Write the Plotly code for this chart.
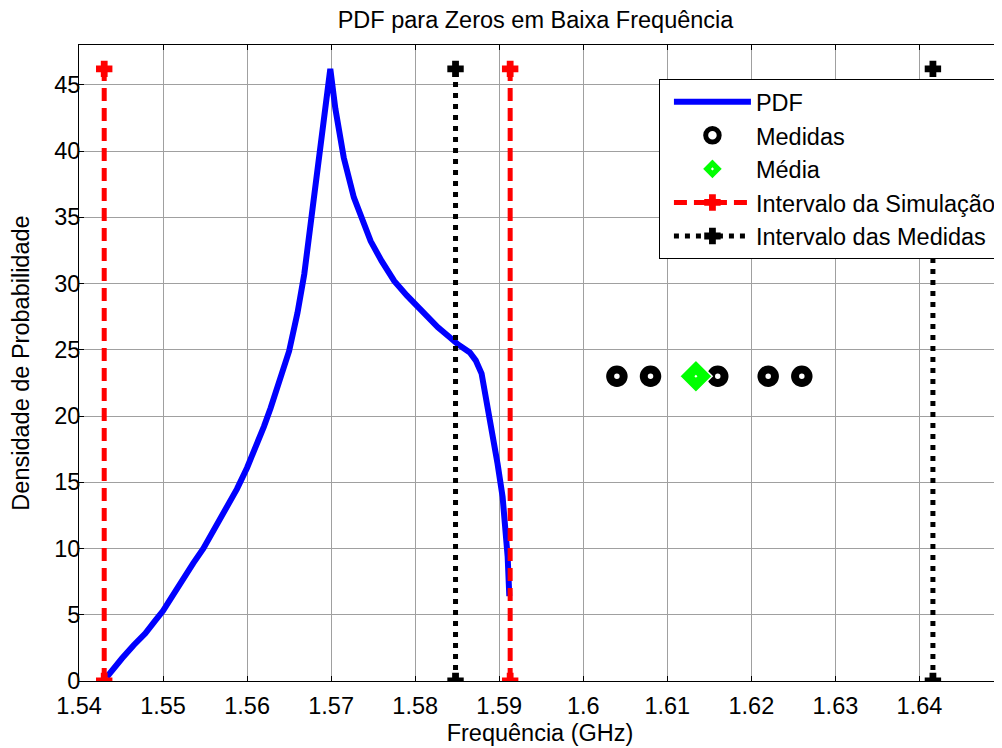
import plotly.graph_objects as go

# ---- data ----
pdf_x = [1.5433, 1.5440, 1.5451, 1.5465, 1.5479, 1.5490, 1.5500, 1.5512, 1.5524, 1.5536,
         1.5548, 1.5562, 1.5576, 1.5588, 1.5600, 1.5610, 1.5620, 1.5628, 1.5636, 1.5643,
         1.5650, 1.5660, 1.5668, 1.5678, 1.5688, 1.5699, 1.5705, 1.5715, 1.5727, 1.5737,
         1.5747, 1.5760, 1.5775, 1.5790, 1.5803, 1.5815, 1.5827, 1.5840, 1.5851, 1.5865,
         1.5872, 1.5879, 1.5888, 1.5898, 1.5904, 1.5910, 1.5912]
pdf_y = [0.3, 0.9, 1.7, 2.7, 3.6, 4.5, 5.3, 6.5, 7.8, 8.9,
         10.0, 11.5, 13.0, 14.5, 16.1, 17.6, 19.2, 20.6, 22.2, 23.6,
         24.9, 27.8, 30.7, 35.7, 40.7, 46.2, 43.2, 39.5, 36.5, 34.8,
         33.2, 31.7, 30.2, 29.1, 28.2, 27.4, 26.7, 26.0, 25.4, 24.8,
         24.2, 23.2, 20.2, 16.4, 13.9, 9.4, 6.4]

medidas_x = [1.604, 1.608, 1.616, 1.622, 1.626]
medidas_y = [23, 23, 23, 23, 23]
media_x = [1.6134]
media_y = [23]

sim_interval = [1.5430, 1.5913]
med_interval = [1.5848, 1.6416]
interval_height = [0, 46.2]

x_ticks = [1.54, 1.55, 1.56, 1.57, 1.58, 1.59, 1.60, 1.61, 1.62, 1.63, 1.64]
x_tick_labels = ["1.54", "1.55", "1.56", "1.57", "1.58", "1.59", "1.6", "1.61", "1.62", "1.63", "1.64"]
y_ticks = [0, 5, 10, 15, 20, 25, 30, 35, 40, 45]

FONT = "Arial, Liberation Sans, sans-serif"
FS = 23.5

fig = go.Figure()

fig.add_trace(go.Scatter(x=pdf_x, y=pdf_y, mode="lines", name="PDF",
                         line=dict(color="#0000FF", width=6), legendgroup="a"))
fig.add_trace(go.Scatter(x=medidas_x, y=medidas_y, mode="markers", name="Medidas",
                         marker=dict(symbol="circle", size=13.5, color="white",
                                     line=dict(color="black", width=8)),
                         legendgroup="b"))
fig.add_trace(go.Scatter(x=media_x, y=media_y, mode="markers", name="Média",
                         marker=dict(symbol="diamond-dot", size=25, color="#00FF00",
                                     line=dict(color="white", width=1.5)),
                         legendgroup="c"))

# Intervalo da Simulação (two vertical segments, one legend entry)
sx, sy = [], []
for v in sim_interval:
    sx += [v, v, None]
    sy += interval_height + [None]
fig.add_trace(go.Scatter(x=sx, y=sy, mode="lines+markers", name="Intervalo da Simulação",
                         line=dict(color="#FF0000", width=5, dash="13px,7px"),
                         marker=dict(symbol="cross", size=12, color="#FF0000",
                                     line=dict(color="#FF0000", width=2)),
                         legendgroup="d"))
mx, my = [], []
for v in med_interval:
    mx += [v, v, None]
    my += interval_height + [None]
fig.add_trace(go.Scatter(x=mx, y=my, mode="lines+markers", name="Intervalo das Medidas",
                         line=dict(color="black", width=5, dash="5px,6px"),
                         marker=dict(symbol="cross", size=12, color="black",
                                     line=dict(color="black", width=2)),
                         legendgroup="e"))

axis_common = dict(showgrid=True, gridcolor="#a0a0a0", gridwidth=1,
                   showline=True, linecolor="black", linewidth=1, mirror="ticks",
                   ticks="inside", ticklen=5, tickcolor="black", zeroline=False,
                   tickfont=dict(family=FONT, size=FS, color="black"))

fig.update_xaxes(range=[1.54, 1.6497], tickvals=x_ticks, ticktext=x_tick_labels,
                 title=dict(text="Frequência (GHz)", font=dict(family=FONT, size=FS, color="black"),
                            standoff=6),
                 ticklabelstandoff=4, **axis_common)
fig.update_yaxes(range=[0, 48], tickvals=y_ticks,
                 title=dict(text="Densidade de Probabilidade", font=dict(family=FONT, size=FS, color="black"),
                            standoff=19),
                 ticklabelstandoff=-7, **axis_common)

# page body has an 8px margin: figure is sized so it fills the 1002x748 window
fig.update_layout(
    width=994, height=740,
    margin=dict(l=71, r=1, t=37, b=67, autoexpand=False),
    paper_bgcolor="white", plot_bgcolor="white",
    font=dict(family=FONT, size=FS, color="black"),
    title=dict(text="PDF para Zeros em Baixa Frequência", x=0.5307, xanchor="center",
               y=1 - 12 / 740, yanchor="middle", yref="container",
               font=dict(family=FONT, size=FS, color="black")),
    legend=dict(x=0.629, y=0.9465, xanchor="left", yanchor="top",
                bgcolor="white", bordercolor="black", borderwidth=1,
                font=dict(family=FONT, size=FS, color="black"),
                itemwidth=77, tracegroupgap=8, traceorder="normal",
                indentation=9),
    showlegend=True,
)

fig.write_html("out.html")
